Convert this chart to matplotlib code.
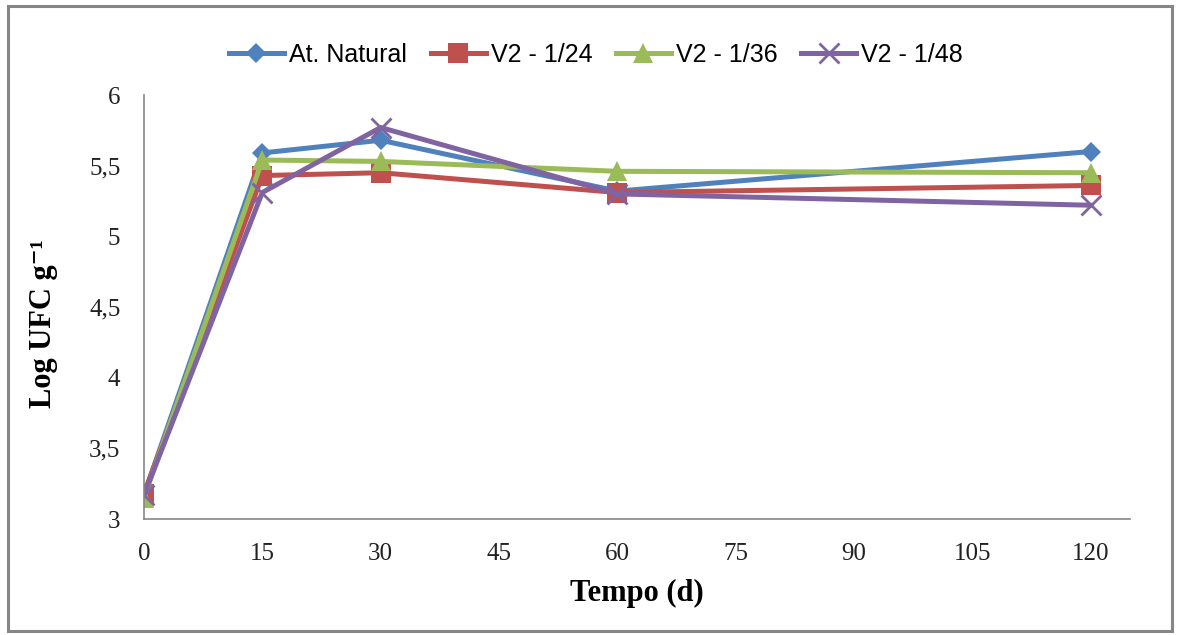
import matplotlib
matplotlib.use('Agg')
import matplotlib.pyplot as plt
from matplotlib.patches import Rectangle

# sampling days and log counts per treatment
dias = [0, 15, 30, 60, 120]
at_natural = [3.17, 5.59, 5.68, 5.32, 5.60]
v2_24 = [3.18, 5.43, 5.45, 5.31, 5.36]
v2_36 = [3.15, 5.54, 5.53, 5.46, 5.45]
v2_48 = [3.17, 5.31, 5.77, 5.30, 5.22]
nomes = ['At. Natural', 'V2 - 1/24', 'V2 - 1/36', 'V2 - 1/48']
xticks = [0, 15, 30, 45, 60, 75, 90, 105, 120]
yticks = [3, 3.5, 4, 4.5, 5, 5.5, 6]

cores = ['#4F81BD', '#C0504D', '#9BBB59', '#8064A2']
marcas = ['D', 's', '^', 'x']
tams = [10.5, 14, 14, 14]

fig = plt.figure(figsize=(11.77, 6.35), dpi=100)
ax = fig.add_axes([144/1177, 1-519/635, (1130-144)/1177, (519-95)/635])

series = [at_natural, v2_24, v2_36, v2_48]
for ys, nm, c, m, s in zip(series, nomes, cores, marcas, tams):
    ax.plot(dias, ys, color=c, lw=3.6, marker=m, ms=s, mew=2 if m == 'x' else 0,
            mec=c, label=nm, solid_joinstyle='round')

ax.set_xlim(0, 125)
ax.set_ylim(3, 6)
ax.set_xticks(xticks)
ax.set_yticks(yticks)
ax.set_yticklabels([('%g' % v).replace('.', ',') for v in yticks])
for sp in ['top', 'right']:
    ax.spines[sp].set_visible(False)
for sp in ['left', 'bottom']:
    ax.spines[sp].set_color('#868686')
    ax.spines[sp].set_linewidth(1.2)
ax.tick_params(length=0, labelsize=18, pad=17)
for lb in ax.get_xticklabels() + ax.get_yticklabels():
    lb.set_family('Liberation Serif')
    lb.set_color('#222222')

ax.set_xlabel('Tempo (d)', family='Liberation Serif', fontweight='bold', fontsize=22, labelpad=10)
ax.set_ylabel('Log UFC g\u207b\u00b9', family=['Liberation Serif', 'DejaVu Serif'],
              fontweight='bold', fontsize=22)
ax.yaxis.set_label_coords(-0.087, 0.46)

leg = ax.legend(loc='center', bbox_to_anchor=(596/1177, 1-55/635), bbox_transform=fig.transFigure,
                ncol=4, frameon=False, handlelength=2.2, handletextpad=0.2, columnspacing=0.95,
                prop={'family': 'Liberation Sans', 'size': 18})

# outer chart border
fig.patches.append(Rectangle((8/1177, 1-631/635), (1172-8)/1177, (631-6)/635,
                             transform=fig.transFigure, fill=False, ec='#868686', lw=2.2))

fig.savefig('out.png', dpi=100)
